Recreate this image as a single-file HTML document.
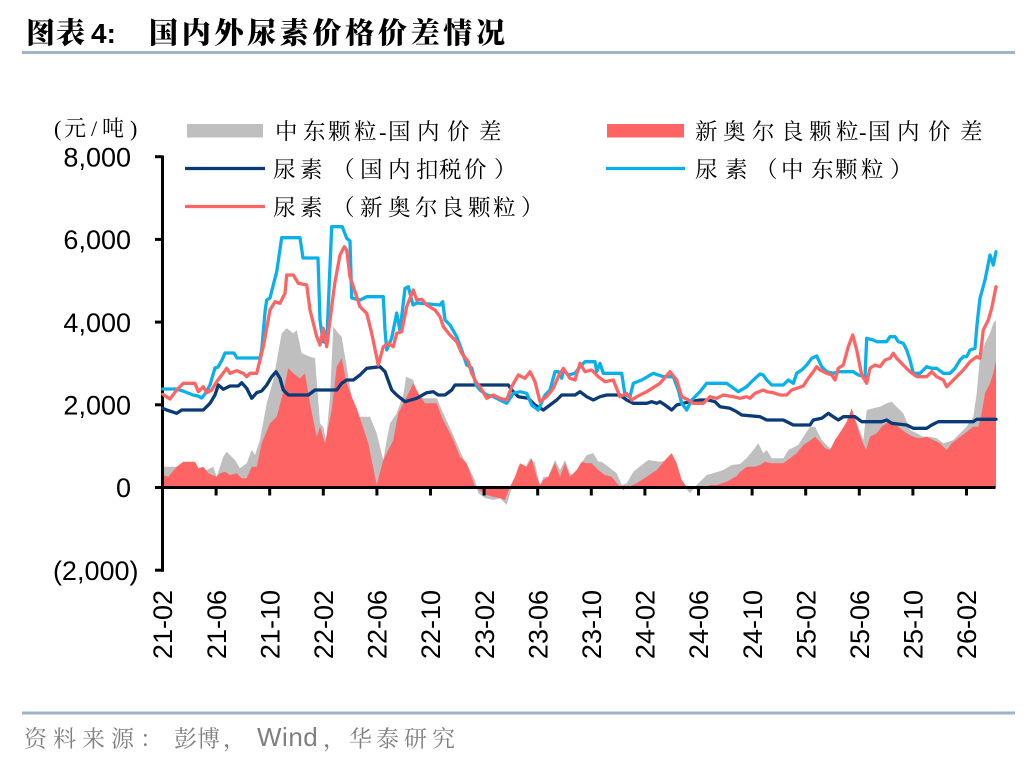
<!DOCTYPE html>
<html>
<head>
<meta charset="utf-8">
<style>
  html,body{margin:0;padding:0;background:#fff;}
  svg{display:block;}
  .cjk{font-family:"Liberation Serif","Noto Serif CJK SC",serif;}
  .num{font-family:"Liberation Sans",Arial,sans-serif;}
</style>
</head>
<body>
<svg width="1036" height="764" viewBox="0 0 1036 764" xmlns="http://www.w3.org/2000/svg">
  <rect width="1036" height="764" fill="#ffffff"/>

  <!-- Title -->
  <text class="cjk" font-size="29" font-weight="900" fill="#000" y="43" x="26 56">图表</text>
  <text class="num" x="91" y="43" font-size="28" font-weight="700" fill="#000">4:</text>
  <text class="cjk" font-size="29" font-weight="900" fill="#000" y="43" x="149 181.7 214.4 247 279.8 312.5 345 378 410.6 443.3 476">国内外尿素价格价差情况</text>
  <line x1="22" y1="52.5" x2="1015" y2="52.5" stroke="#9fb3c9" stroke-width="3"/>

  <!-- Legend -->
  <rect x="187" y="124" width="76" height="13.5" fill="#bfbfbf"/>
  <text class="cjk" font-size="22.5" fill="#000" y="139.5" x="275 303 328 354 379 388 417 447 479">中东颗粒-国内价差</text>
  <line x1="185" y1="168.5" x2="265" y2="168.5" stroke="#0a3a78" stroke-width="3.3"/>
  <text class="cjk" font-size="22.5" fill="#000" y="177.5" x="273 300 332 360 388 416 439 464 494">尿素（国内扣税价）</text>
  <line x1="185" y1="206.5" x2="265" y2="206.5" stroke="#ff6464" stroke-width="3.3"/>
  <text class="cjk" font-size="22.5" fill="#000" y="215.5" x="273 300 332 360 388 415 441 468 493 521">尿素（新奥尔良颗粒）</text>

  <rect x="607" y="124" width="77" height="13.5" fill="#ff6464"/>
  <text class="cjk" font-size="22.5" fill="#000" y="139.5" x="695 723 752 781 809 836 859 868 897 928 960">新奥尔良颗粒-国内价差</text>
  <line x1="606" y1="168.5" x2="685" y2="168.5" stroke="#0ab0ec" stroke-width="3.3"/>
  <text class="cjk" font-size="22.5" fill="#000" y="177.5" x="695 725 755 781 811 835 861 890">尿素（中东颗粒）</text>

  <!-- Y axis labels -->
  <text class="cjk" y="136" font-size="22" fill="#000" x="54 64 91 102 130">(元/吨)</text>
  <g class="num" font-size="27" fill="#000" text-anchor="end">
    <text x="131" y="166.4">8,000</text>
    <text x="131" y="249.1">6,000</text>
    <text x="131" y="331.8">4,000</text>
    <text x="131" y="414.5">2,000</text>
    <text x="131" y="497.2">0</text>
    <text x="138.5" y="579.9">(2,000)</text>
  </g>

  <!-- Areas -->
  <path fill="#bfbfbf" d="M162.7,487.5 L162.7,466.7 193.3,466.7 196.7,470 206.7,470 213.3,466.7 216.7,476.7 220,466.7 223.3,456.7 226.7,451.7 230,455 235,460 240,468.3 246.7,463.3 251.7,450 255,455 260,440 266.7,403.3 273.3,380 281.7,333.3 286.7,328.3 293.3,333.3 296.7,330 301.7,353.3 310,356.7 315,358.3 320,423.3 323.3,426.7 326,440 330,396.7 333.3,326.7 338.3,333.3 341.7,336.7 346.7,366.7 351.7,396.7 356.7,416.7 370,416.7 376.7,433.3 383.3,460 386.7,440 390,423.3 396.7,413.3 403.3,395 406,376.7 413.3,380 416.7,395 423.3,398.3 436.7,398.3 443.3,413.3 451.7,431.7 456.7,443.3 463.3,458.3 470,470 475,480 478.3,493.3 485,498 493.3,500 500,498.3 506.7,505 511.7,488.3 518.3,466.7 525,468.3 530,458.3 535,463.3 540,486.7 543.3,476.7 548.3,476.7 555,460 560,470 565,460 570,473.3 575,476.7 580,465 586.7,455 593.3,453.3 598.3,461.7 601.7,461.7 608.3,466.7 616.7,473.3 621.7,485 626.7,483.3 633.3,471.7 641.7,465 648.3,460 660,461.7 670,460 678.3,470 683.3,485 690,493.3 695,486.7 700,481.7 706.7,475 713.3,473.3 723.3,470 731.7,465 740,464 746.7,458 753.3,450 758.3,443.3 763.3,453.3 766.7,450 771.7,458.3 783.3,458.3 788.3,450 798.3,445 803.3,436.7 810,426.7 815,426.7 821.7,440 828.3,446.7 833.3,450 840,435 846.7,426.7 853.3,413.3 858.3,426.7 863.3,440 866.7,410 873.3,408.3 880,406.7 886.7,403.3 891.7,401.7 896.7,406.7 903.3,413.3 910,430 916.7,433.3 923.3,436.7 930,436.7 936.7,438.3 943.3,443.3 948.3,441.7 953.3,440 960,433.3 966.7,426.7 973.3,416.7 976.7,393.3 980,356.7 985,343.3 990,333.3 993.3,323.3 996,320 L996,487.5 Z"/>
  <path fill="#ff6464" d="M162.7,487.5 L162.7,475 168.3,476.7 176.7,466.7 183.3,461.7 195,461.7 198.3,468.3 203.3,466.7 208.3,473.3 216.7,476.7 220,473.3 225,471.7 230,475 236.7,473.3 241.7,478.3 246.7,478.3 251.7,466.7 256.7,466.7 261.7,443.3 270,423.3 276.7,416.7 283.3,391.7 288.3,368.3 293.3,373.3 300,378.3 305,373.3 310,403.3 316.7,436.7 320,426.7 325,443.3 331.7,410 336.7,366.7 341.7,358.3 346.7,383.3 351.7,396.7 356.7,408.3 361.7,423.3 368.3,443.3 376.7,485 383.3,460 388.3,450 393.3,440 398.3,413.3 406.7,396.7 413.3,383.3 418.3,393.3 425,403.3 436.7,403.3 441.7,416.7 448.3,430 453.3,440 460,456.7 466.7,463.3 475,486.7 481.7,491.7 486.7,495 493.3,496.7 500,498.3 505,500 510,486.7 515,476.7 520,463.3 526.7,466.7 531.7,458.3 536.7,476.7 540,485 543.3,480 548.3,476.7 555,463.3 560,476.7 565,463.3 570,476.7 576.7,470 581.7,461.7 586.7,463.3 591.7,463.3 598.3,470 605,475 611.7,476.7 618.3,485 623.3,490 628.3,486.7 636.7,483.3 646.7,476.7 656.7,470 666.7,458.3 671.7,453.3 676.7,463.3 681.7,480 686.7,486.7 693.3,488.3 698.3,490 705,488 710,485 716.7,485 726.7,481.7 736.7,476 740,472 746.7,466.7 755,466.7 760,465 765,461.7 771.7,463.3 783.3,463.3 790,458.3 796.7,453.3 803.3,445 808.3,441.7 815,436.7 820,441.7 825,448.3 830,450 835,440 841.7,430 846.7,421.7 851.7,408.3 856.7,425 861.7,440 866,450 870,436.7 876.7,433.3 881.7,426.7 888.3,421.7 893.3,421.7 900,428.3 906.7,433.3 913.3,436.7 920,438.3 926.7,436.7 933.3,440 940,443.3 946.7,450 951.7,443.3 958.3,438.3 966.7,431.7 973.3,426.7 978.3,426.7 981.7,413.3 985,393.3 990,383.3 993.3,373.3 996,360 L996,487.5 Z"/>

  <!-- Axes -->
  <g stroke="#000" stroke-width="3" fill="none">
    <line x1="162.5" y1="155.5" x2="162.5" y2="571.7"/>
    <line x1="155" y1="156.7" x2="162.5" y2="156.7"/>
    <line x1="155" y1="239.4" x2="162.5" y2="239.4"/>
    <line x1="155" y1="322.1" x2="162.5" y2="322.1"/>
    <line x1="155" y1="404.8" x2="162.5" y2="404.8"/>
    <line x1="155" y1="487.5" x2="162.5" y2="487.5"/>
    <line x1="155" y1="570.2" x2="162.5" y2="570.2"/>
    <line x1="161" y1="487.5" x2="995.5" y2="487.5"/>
    <path d="M162.5,487.5V495.5 M216.1,487.5V495.5 M269.7,487.5V495.5 M323.3,487.5V495.5 M376.9,487.5V495.5 M430.5,487.5V495.5 M484.1,487.5V495.5 M537.7,487.5V495.5 M591.3,487.5V495.5 M644.9,487.5V495.5 M698.5,487.5V495.5 M752.1,487.5V495.5 M805.7,487.5V495.5 M859.3,487.5V495.5 M912.9,487.5V495.5 M966.5,487.5V495.5"/>
  </g>

  <!-- Lines -->
  <g fill="none" stroke-width="3.3" stroke-linejoin="round" stroke-linecap="round">
    <polyline stroke="#0a3a78" points="162.7,408.3 166.7,410 176.7,413.3 181.7,410 203.3,410 210,403.3 215,395 218.3,385 223.3,389.3 230,386 238.3,386 241.7,382.7 246.7,388.3 251.7,398.3 256.7,392.7 261.7,391 266.7,385 271.7,376.7 276,371.7 280,378.3 283.3,390 288.3,395 308.3,395 315,390 336.7,390 341.7,383.3 346.7,380 353.3,380 360,375 366.7,368.3 380,366.7 385,371.7 391.7,390 396.7,395 405,401.7 416.7,398.3 426.7,392.7 433.3,391.7 438.3,395 445,395 451.7,390 455,385 508.3,385 511.7,390 518.3,396.7 528.3,398.3 535,405 543.3,410 550,405 556.7,400 561.7,395 575,395 580,391.7 586.7,396.7 593.3,400 600,396.7 606.7,395 620,395 626.7,400 633.3,403.3 646.7,403.3 651.7,401.7 656.7,403.3 660,401.7 665,405 671.7,410 676.7,405 683.3,403.3 690,401.7 700,400 708.3,400 715,401.7 720,406.7 730,408.3 736.7,411.7 741.7,415 760,416.7 766.7,420 783.3,420 793.3,425 810,425 813.3,420 821.7,418.3 828.3,413.3 833.3,416.7 838.3,420 843.3,416.7 855,416.7 861.7,421.7 881.7,421.7 886.7,420 891.7,423.3 906.7,425 913.3,428.3 926.7,428.3 931.7,425 938.3,421.7 973.3,421.7 976.7,419.3 996,419.3"/>
    <polyline stroke="#0ab0ec" points="162.7,389 176,389 183,391 193,395 198,396 201.7,398 205,394 210,385 215,368 218,367 222,360 225,353 234,353 237,358 260,358 261.7,350 265,312 266.7,300 270,298 276.7,271.7 281.7,237.7 300,237.7 303,258 318,258 320,320 323,341.7 326.7,343 331.7,226.7 342.3,226.7 346.7,238.3 350,241 351.7,298 360,300 366.7,296.7 383.3,296.7 385,330 386.7,350 391.7,338 396.7,313 400,331 405,288.3 408.3,286.7 413,305 416.7,303 440,305 442.7,301.7 445,320 450,325 456.7,336.7 461.7,350 466.7,365 471.7,368 476,385 480,390 486.7,395 493.3,396.7 500,400 506.7,403.3 513.3,393.3 520,391.7 526.7,393.3 531.7,405 538.3,410 545,395 550,390 555,371.7 558.3,371.7 561.7,378.3 563.3,370 568.3,375 575,373.3 580,366.7 585,361.7 595,361.7 596.7,371.7 600,363.3 603.3,373.3 621.7,373.3 625,395 630,396.7 633.3,383.3 641.7,380 653.3,373.3 663.3,376.7 673.3,376.7 678.3,390 681.7,403.3 686.7,410 691.7,400 700,391.7 706.7,383.3 726.7,383.3 738.3,391.7 746.7,386.7 753.3,380 760,374 763.3,375 766.7,380 771.7,385 783.3,385 788.3,380 793.3,383.3 796.7,373.3 801.7,370 806.7,365 811.7,358.3 816.7,356 821.7,366.7 826.7,371.7 833.3,373.3 838.3,371.7 853.3,371.7 858.3,375 865,376.7 866.7,338.3 873.3,340 876.7,341.7 886.7,341.7 890,336.7 895,336.7 898.3,341.7 903.3,343.3 906.7,350 910,360 913.3,373.3 920,373.3 926.7,366.7 931.7,368.3 936.7,368.3 943.3,373.3 950,373.3 955,368.3 960,360 963.3,356.7 966.7,356.7 970,350 975,348.3 977.3,321.7 980,298.3 985,280 990,255 993.3,265 996,251.7"/>
    <polyline stroke="#ff6464" points="162.7,394.3 170,399 176.7,390 183.3,383.3 195,383.3 198.3,391.7 203.3,386.7 206.7,392.7 211.7,390 216.7,381.7 221.7,375 226.7,368.3 230,373.3 236.7,370.7 243.3,373.3 246.7,376.7 250,373.3 256.7,373.3 263.3,346.7 270,310 275,301.7 280,303.3 285,293.3 286.7,275 293.3,275 298.3,283.3 306.7,285 310,310 316.7,336.7 320,345 323.3,328.3 326.7,346.7 331.7,306.7 335,281.7 340,255 344.3,246.7 346.7,250 350,276.7 355,291.7 360,306.7 366.7,313.3 371.7,333.3 378.3,365 383.3,346.7 388.3,343.3 393.3,346.7 396.7,333.3 401.7,331.7 406.7,306.7 413.3,290 416.7,300 421.7,299.3 426.7,305 435,310 440,316.7 443.3,326.7 450,335 456.7,341.7 461.7,353.3 468.3,361.7 471.7,373.3 476.7,383.3 480,386.7 486.7,398.3 493.3,395 500,398.3 506.7,400 511.7,386.7 518.3,375 525,378.3 530,371.7 535,381.7 540,401.7 546.7,396.7 553.3,388.3 558.3,376.7 563.3,368.3 570,378.3 575,380 580,363.3 585,371.7 591.7,370 598.3,376.7 605,381.7 613.3,380 620,396.7 626.7,393.3 631.7,400 636.7,396.7 646.7,391.7 660,383.3 670,371.7 676.7,380 681.7,396.7 688.3,400 693.3,403.3 703.3,403.3 710,396.7 716.7,398.3 723.3,395 733.3,396.7 740,398.3 746.7,396.7 750,398.3 755,393.3 763.3,390 766.7,391.7 773.3,392.7 780,395 786.7,395 791.7,390 796.7,388.3 803.3,386 808.3,378.3 813.3,371.7 816.7,366.7 820,370 826.7,373.3 831.7,375 835,380 838.3,368.3 843.3,365 848.3,346.7 852.7,335 856.7,350 861.7,375 866.7,383.3 870,368.3 875,365 880,366.7 885,360 890,358.3 893.3,353.3 896.7,358.3 903.3,365 910,371.7 916.7,376.7 926.7,376.7 931.7,371.7 936.7,376.7 943.3,380 946.7,386.7 951.7,381.7 956.7,376.7 963.3,370 970,361.7 976.7,356.7 980,358.3 983.3,330 988.3,320 991.7,308.3 996,286.7"/>
  </g>

  <!-- X labels -->
  <g class="num" font-size="27" fill="#000" text-anchor="end">
    <text transform="translate(172.2,590) rotate(-90)">21-02</text>
    <text transform="translate(225.8,590) rotate(-90)">21-06</text>
    <text transform="translate(279.4,590) rotate(-90)">21-10</text>
    <text transform="translate(333,590) rotate(-90)">22-02</text>
    <text transform="translate(386.6,590) rotate(-90)">22-06</text>
    <text transform="translate(440.2,590) rotate(-90)">22-10</text>
    <text transform="translate(493.8,590) rotate(-90)">23-02</text>
    <text transform="translate(547.4,590) rotate(-90)">23-06</text>
    <text transform="translate(601,590) rotate(-90)">23-10</text>
    <text transform="translate(654.6,590) rotate(-90)">24-02</text>
    <text transform="translate(708.2,590) rotate(-90)">24-06</text>
    <text transform="translate(761.8,590) rotate(-90)">24-10</text>
    <text transform="translate(815.4,590) rotate(-90)">25-02</text>
    <text transform="translate(869,590) rotate(-90)">25-06</text>
    <text transform="translate(922.6,590) rotate(-90)">25-10</text>
    <text transform="translate(976.2,590) rotate(-90)">26-02</text>
  </g>

  <!-- Footer -->
  <line x1="22" y1="713" x2="1015" y2="713" stroke="#9fb3c9" stroke-width="3"/>
  <text class="cjk" font-size="23" fill="#7f7f7f" y="746.5" x="24 53 82 111 140">资料来源：</text>
  <text class="cjk" font-size="23" fill="#7f7f7f" y="746.5" x="174 197 223">彭博，</text>
  <text class="num" font-size="26" fill="#7f7f7f" y="746" x="257" letter-spacing="0.5">Wind</text>
  <text class="cjk" font-size="23" fill="#7f7f7f" y="746.5" x="323">，</text>
  <text class="cjk" font-size="23" fill="#7f7f7f" y="746.5" x="349 376 404 432">华泰研究</text>
</svg>
</body>
</html>
